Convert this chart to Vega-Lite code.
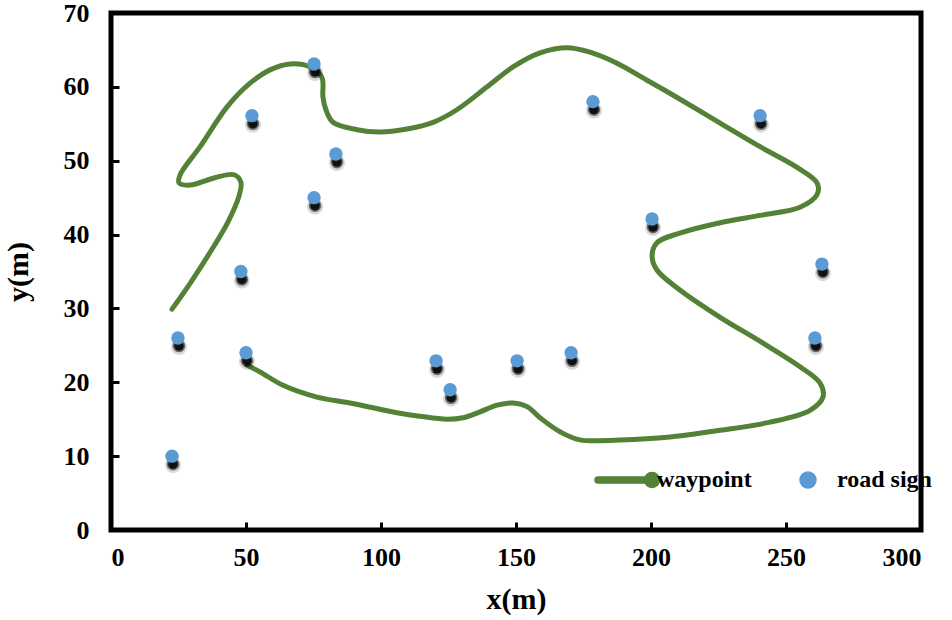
{
  "$schema": "https://vega.github.io/schema/vega-lite/v6.json",
  "width": 810,
  "height": 517,
  "autosize": "none",
  "padding": {"left": 111, "top": 13, "right": 31, "bottom": 90},
  "background": "white",
  "config": {
    "view": {"stroke": "black", "strokeWidth": 5},
    "axis": {
      "domain": false,
      "grid": false,
      "ticks": true,
      "tickColor": "black",
      "tickWidth": 3,
      "tickSize": -8,
      "labelFont": "Liberation Serif",
      "labelFontWeight": "bold",
      "labelFontSize": 26,
      "labelColor": "black",
      "titleFont": "Liberation Serif",
      "titleFontWeight": "bold",
      "titleFontSize": 30,
      "titleColor": "black"
    }
  },
  "datasets": {
    "path": [
      {"i": 1, "x": 22.6, "y": 29.9},
      {"i": 2, "x": 29.3, "y": 33.4},
      {"i": 3, "x": 36.7, "y": 37.6},
      {"i": 4, "x": 43.3, "y": 41.7},
      {"i": 5, "x": 47.4, "y": 45.2},
      {"i": 6, "x": 48.1, "y": 47.1},
      {"i": 7, "x": 45.6, "y": 48.1},
      {"i": 8, "x": 38.5, "y": 47.7},
      {"i": 9, "x": 29.3, "y": 46.7},
      {"i": 10, "x": 25.2, "y": 47.0},
      {"i": 11, "x": 25.6, "y": 48.1},
      {"i": 12, "x": 33.0, "y": 51.9},
      {"i": 13, "x": 43.0, "y": 57.3},
      {"i": 14, "x": 51.5, "y": 60.5},
      {"i": 15, "x": 58.9, "y": 62.3},
      {"i": 16, "x": 66.3, "y": 63.1},
      {"i": 17, "x": 73.7, "y": 62.7},
      {"i": 18, "x": 78.1, "y": 61.3},
      {"i": 19, "x": 78.5, "y": 58.6},
      {"i": 20, "x": 79.6, "y": 56.9},
      {"i": 21, "x": 82.2, "y": 55.2},
      {"i": 22, "x": 91.1, "y": 54.2},
      {"i": 23, "x": 99.6, "y": 53.9},
      {"i": 24, "x": 109.6, "y": 54.3},
      {"i": 25, "x": 119.3, "y": 55.2},
      {"i": 26, "x": 128.1, "y": 56.9},
      {"i": 28, "x": 139.3, "y": 60.0},
      {"i": 29, "x": 148.9, "y": 62.7},
      {"i": 30, "x": 158.9, "y": 64.6},
      {"i": 31, "x": 168.9, "y": 65.3},
      {"i": 32, "x": 177.4, "y": 64.7},
      {"i": 33, "x": 187.4, "y": 63.2},
      {"i": 34, "x": 198.5, "y": 60.9},
      {"i": 35, "x": 208.1, "y": 58.9},
      {"i": 37, "x": 225.6, "y": 55.1},
      {"i": 38, "x": 240.4, "y": 51.9},
      {"i": 39, "x": 254.1, "y": 49.1},
      {"i": 40, "x": 261.5, "y": 47.0},
      {"i": 41, "x": 261.5, "y": 45.4},
      {"i": 42, "x": 255.2, "y": 43.7},
      {"i": 43, "x": 240.4, "y": 42.6},
      {"i": 44, "x": 225.6, "y": 41.6},
      {"i": 45, "x": 210.7, "y": 40.2},
      {"i": 46, "x": 202.2, "y": 38.9},
      {"i": 47, "x": 200.4, "y": 37.1},
      {"i": 48, "x": 202.2, "y": 35.2},
      {"i": 49, "x": 210.7, "y": 32.5},
      {"i": 50, "x": 225.6, "y": 28.8},
      {"i": 51, "x": 241.5, "y": 25.3},
      {"i": 52, "x": 255.2, "y": 22.1},
      {"i": 53, "x": 262.6, "y": 19.9},
      {"i": 54, "x": 263.7, "y": 18.0},
      {"i": 55, "x": 258.9, "y": 16.2},
      {"i": 56, "x": 244.1, "y": 14.6},
      {"i": 57, "x": 225.6, "y": 13.5},
      {"i": 58, "x": 207.0, "y": 12.6},
      {"i": 59, "x": 188.5, "y": 12.2},
      {"i": 60, "x": 173.7, "y": 12.2},
      {"i": 61, "x": 166.3, "y": 13.3},
      {"i": 62, "x": 158.9, "y": 15.2},
      {"i": 63, "x": 154.1, "y": 16.7},
      {"i": 64, "x": 148.9, "y": 17.2},
      {"i": 65, "x": 143.0, "y": 16.9},
      {"i": 66, "x": 136.7, "y": 16.0},
      {"i": 67, "x": 130.4, "y": 15.2},
      {"i": 68, "x": 124.4, "y": 15.0},
      {"i": 69, "x": 114.4, "y": 15.4},
      {"i": 70, "x": 107.0, "y": 15.8},
      {"i": 71, "x": 88.5, "y": 17.2},
      {"i": 72, "x": 76.3, "y": 18.0},
      {"i": 73, "x": 63.7, "y": 19.6},
      {"i": 74, "x": 55.2, "y": 21.4},
      {"i": 75, "x": 50.4, "y": 22.3}
    ],
    "signs": [
      {"x": 22.6, "y": 10.0},
      {"x": 24.8, "y": 26.0},
      {"x": 48.1, "y": 35.0},
      {"x": 50.0, "y": 24.0},
      {"x": 52.2, "y": 56.1},
      {"x": 75.2, "y": 63.1},
      {"x": 75.2, "y": 45.0},
      {"x": 83.3, "y": 50.9},
      {"x": 120.4, "y": 22.9},
      {"x": 125.6, "y": 19.0},
      {"x": 150.4, "y": 22.9},
      {"x": 170.4, "y": 24.0},
      {"x": 178.5, "y": 58.0},
      {"x": 200.4, "y": 42.1},
      {"x": 240.4, "y": 56.1},
      {"x": 263.3, "y": 36.0},
      {"x": 260.7, "y": 26.0}
    ]
  },
  "layer": [
    {
      "data": {"name": "path"},
      "mark": {"type": "line", "interpolate": "catmull-rom", "strokeWidth": 5, "strokeCap": "round", "clip": true},
      "encoding": {
        "x": {"field": "x", "type": "quantitative", "scale": {"domain": [0, 300], "nice": false}, "axis": {"values": [0, 50, 100, 150, 200, 250, 300], "title": "x(m)", "labelPadding": 22, "titlePadding": 14}},
        "y": {"field": "y", "type": "quantitative", "scale": {"domain": [0, 70], "nice": false}, "axis": {"values": [0, 10, 20, 30, 40, 50, 60, 70], "title": "y(m)", "labelPadding": 30, "titlePadding": 30}},
        "order": {"field": "i", "type": "quantitative"},
        "color": {
          "datum": "waypoint",
          "scale": {"domain": ["waypoint", "road sign"], "range": ["#538135", "#5B9BD5"]},
          "legend": {
            "orient": "none",
            "legendX": 529,
            "legendY": 455,
            "direction": "horizontal",
            "title": null,
            "padding": 0,
            "labelFont": "Liberation Serif",
            "labelFontWeight": "bold",
            "labelFontSize": 24,
            "labelColor": "black",
            "symbolSize": 100,
            "labelOffset": -7,
            "columnPadding": 45,
            "encode": {
              "symbols": {
                "update": {
                  "shape": {"signal": "datum.value === 'waypoint' ? 'M-10.8,-0.6 L-1.2,-0.6 L-1.2,0.6 L-10.8,0.6 A0.6,0.6 0 1,1 -10.8,-0.6 Z M-1.5,0 A1.5,1.5 0 1,1 1.5,0 A1.5,1.5 0 1,1 -1.5,0 Z' : 'M-6.4,0 A1.6,1.6 0 1,1 -3.2,0 A1.6,1.6 0 1,1 -6.4,0 Z'"},
                  "fill": {"signal": "datum.value === 'waypoint' ? '#538135' : '#5B9BD5'"},
                  "stroke": {"value": "transparent"},
                  "size": {"value": 100},
                  "opacity": {"value": 1}
                }
              }
            }
          }
        }
      }
    },
    {
      "data": {"name": "signs"},
      "mark": {"type": "point", "filled": true, "shape": "circle", "size": 260, "yOffset": 9, "xOffset": 1, "color": "black", "opacity": 0.15},
      "encoding": {"x": {"field": "x", "type": "quantitative"}, "y": {"field": "y", "type": "quantitative"}}
    },
    {
      "data": {"name": "signs"},
      "mark": {"type": "point", "filled": true, "shape": "circle", "size": 160, "yOffset": 8, "xOffset": 1, "color": "black", "opacity": 0.5},
      "encoding": {"x": {"field": "x", "type": "quantitative"}, "y": {"field": "y", "type": "quantitative"}}
    },
    {
      "data": {"name": "signs"},
      "mark": {"type": "point", "filled": true, "shape": "circle", "size": 90, "yOffset": 8, "xOffset": 1, "color": "black", "opacity": 0.85},
      "encoding": {"x": {"field": "x", "type": "quantitative"}, "y": {"field": "y", "type": "quantitative"}}
    },
    {
      "data": {"name": "signs"},
      "mark": {"type": "point", "filled": true, "shape": "circle", "size": 180, "opacity": 1},
      "encoding": {
        "x": {"field": "x", "type": "quantitative"},
        "y": {"field": "y", "type": "quantitative"},
        "color": {"datum": "road sign"}
      }
    }
  ]
}
